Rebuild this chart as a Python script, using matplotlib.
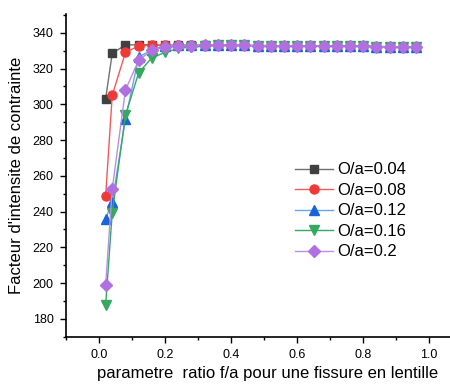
import matplotlib
matplotlib.use("Agg")
import matplotlib.pyplot as plt
from matplotlib.ticker import MultipleLocator

x = [0.02, 0.04, 0.08, 0.12, 0.16, 0.20, 0.24, 0.28, 0.32, 0.36, 0.40, 0.44, 0.48,
     0.52, 0.56, 0.60, 0.64, 0.68, 0.72, 0.76, 0.80, 0.84, 0.88, 0.92, 0.96]

flat = [333.0, 333.0, 333.0, 333.0, 333.0, 332.9, 332.9, 332.8, 332.8, 332.7, 332.7,
        332.6, 332.6, 332.5, 332.5, 332.4, 332.3, 332.2, 332.2, 332.1]

s004 = [303.0, 328.5, 333.2, 333.3, 333.3] + flat
s008 = [248.5, 305.0, 329.0, 332.6, 333.0] + flat
s012 = [236.0, 245.3, 291.7, 326.3, 330.6, 332.8, 333.0, 333.0] + flat[3:]
s016 = [187.6, 239.3, 293.9, 317.6, 326.0, 329.0, 331.3, 332.0, 332.4] + flat[4:]
s020 = [198.7, 252.6, 308.0, 324.6, 330.2, 332.0, 332.5, 332.8] + flat[3:]

labels = ["O/a=0.04", "O/a=0.08", "O/a=0.12", "O/a=0.16", "O/a=0.2"]
series = [s004, s008, s012, s016, s020]
colors = ["#404040", "#f03a3a", "#1a64d8", "#36a862", "#b070e0"]
line_colors = ["#707070", "#f05a5a", "#6aa4f0", "#36a862", "#b890e8"]
markers = ["s", "o", "^", "v", "D"]
msizes = [6, 6.5, 6.5, 6.5, 6.0]

plt.rcParams['font.family'] = ['Liberation Sans', 'DejaVu Sans']

fig = plt.figure(figsize=(4.5, 3.85), dpi=100)
ax = fig.add_axes([66/450, (385-336.7)/385, (470-66)/450, (336.7-14)/385])

for ys, lab, c, lc, m, ms in zip(series, labels, colors, line_colors, markers, msizes):
    ax.plot(x, ys, color=lc, linewidth=1.0, marker=m, markersize=ms,
            markerfacecolor=c, markeredgecolor=c, label=lab)

ax.set_xlim(-0.1, (470-98.7)/330.5)
ax.set_ylim(170, 350.5)
ax.xaxis.set_major_locator(MultipleLocator(0.2))
ax.xaxis.set_minor_locator(MultipleLocator(0.1))
ax.yaxis.set_major_locator(MultipleLocator(20))
ax.yaxis.set_minor_locator(MultipleLocator(10))
ax.set_xticks([0.0, 0.2, 0.4, 0.6, 0.8, 1.0])
ax.set_xticklabels(["0.0", "0.2", "0.4", "0.6", "0.8", "1.0"])
ax.set_yticks([180, 200, 220, 240, 260, 280, 300, 320, 340])
ax.tick_params(axis='both', which='major', length=4.5, width=1, labelsize=9, direction='out')
ax.tick_params(axis='both', which='minor', length=2.5, width=1, direction='out')
ax.tick_params(axis='x', pad=4)
ax.tick_params(axis='y', pad=4.5)
for sp in ['top', 'right']:
    ax.spines[sp].set_visible(False)
for sp in ['left', 'bottom']:
    ax.spines[sp].set_linewidth(1.2)

ax.set_xlabel("parametre  ratio f/a pour une fissure en lentille", fontsize=12, labelpad=4)
ax.set_ylabel("Facteur d'intensite de contrainte", fontsize=12, labelpad=6)

ax.legend(loc='upper left', bbox_to_anchor=(0.567, 0.54), frameon=False, fontsize=12,
          handlelength=2.25, handletextpad=0.3, labelspacing=0.33, borderaxespad=0,
          borderpad=0)

fig.savefig("out.png", dpi=100)
